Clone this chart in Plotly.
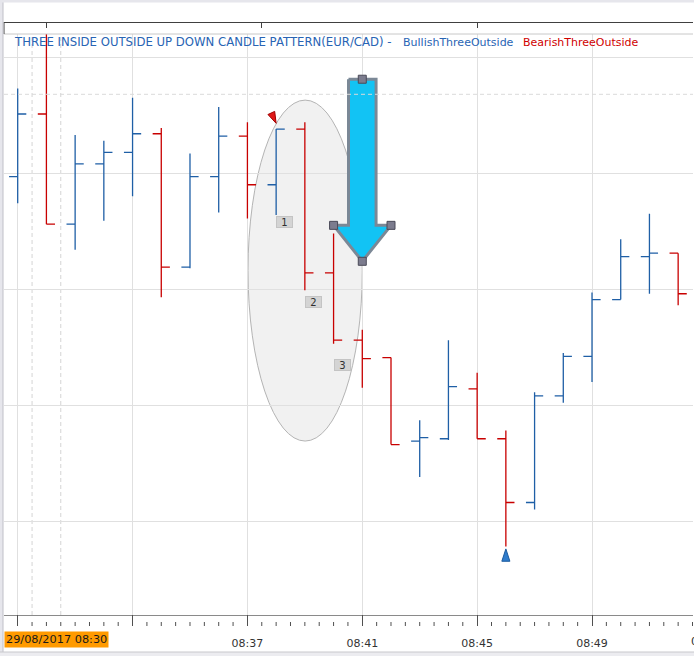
import plotly.graph_objects as go

# ---------------- data ----------------
times = ["08:29", "08:30", "08:31", "08:32", "08:33", "08:34", "08:35", "08:36",
         "08:37", "08:38", "08:39", "08:40", "08:41", "08:42", "08:43", "08:44",
         "08:45", "08:46", "08:47", "08:48", "08:49", "08:50", "08:51", "08:52"]
opens = [1.49597, 1.49651, 1.49556, 1.49608, 1.49618, 1.49634, 1.49519, 1.49597,
         1.49632, 1.49590, 1.49638, 1.49514, 1.49456, 1.49441, 1.49369, 1.49371,
         1.49414, 1.49371, 1.49316, 1.49408, 1.49442, 1.49491, 1.49528, 1.49531]
highs = [1.49673, 1.49732, 1.49633, 1.49628, 1.49665, 1.49639, 1.49617, 1.49657,
         1.49644, 1.49638, 1.49644, 1.49548, 1.49465, 1.49441, 1.49387, 1.49456,
         1.49428, 1.49378, 1.49411, 1.49445, 1.49497, 1.49543, 1.49565, 1.49531]
lows = [1.49574, 1.49556, 1.49534, 1.49559, 1.49580, 1.49493, 1.49518, 1.49566,
        1.49561, 1.49564, 1.49499, 1.49453, 1.49415, 1.49366, 1.49338, 1.49370,
        1.49371, 1.49278, 1.49310, 1.49402, 1.49420, 1.49491, 1.49496, 1.49486]
closes = [1.49651, 1.49556, 1.49608, 1.49618, 1.49634, 1.49519, 1.49597, 1.49632,
          1.49590, 1.49638, 1.49514, 1.49456, 1.49440, 1.49366, 1.49372, 1.49416,
          1.49371, 1.49316, 1.49408, 1.49442, 1.49491, 1.49528, 1.49531, 1.49496]

major_ticks = ["08:29", "08:33", "08:37", "08:41", "08:45", "08:49", "08:53"]
major_labels = [" ", " ", "08:37", "08:41", "08:45", "08:49", "08:53"]
first_label = "29/08/2017 08:30"
title_main = "THREE INSIDE OUTSIDE UP DOWN CANDLE PATTERN(EUR/CAD) -"
title_bull = "BullishThreeOutside"
title_bear = "BearishThreeOutside"

bear_signal = "08:38"
bull_signal = "08:46"
pattern_bars = ["08:38", "08:39", "08:40"]
pattern_texts = ["1", "2", "3"]
pattern_label_y = [1.49558, 1.49489, 1.49435]

# drawing objects (data coordinates)
ellipse_x = ["08:37", "08:41"]
ellipse_y = [1.49369, 1.49663]
arrow_top, arrow_wing, arrow_tip = 1.49681, 1.49555, 1.49524
level_line = 1.49668
dashed_times = [29.5, 30.5]


def to_min(t):
    h, m = t.split(":")
    return int(h) * 60 + int(m) - 480


x = [to_min(t) for t in times]
xmaj = [to_min(t) for t in major_ticks]

BLUE = "#1f5fa6"
RED = "#c80000"
GRID = "#e0e0e0"
FONT = "DejaVu Sans"

W, H = 694, 656
ML, MR, MT, MB = 4, 1, 22, 26
PW, PH = W - ML - MR, H - MT - MB
XR = [28.523, 52.517]
YR = [1.49219, 1.49720]


def pyf(py):  # pixel y -> paper fraction
    return (H - MB - py) / PH


def pxf(px):
    return (px - ML) / PW


def xpaper(v):  # data x -> paper fraction
    return (v - XR[0]) / (XR[1] - XR[0])


ydom = [pyf(615), pyf(34)]

fig = go.Figure()

fig.add_trace(go.Ohlc(
    x=x, open=opens, high=highs, low=lows, close=closes,
    increasing=dict(line=dict(color=BLUE, width=1.3)),
    decreasing=dict(line=dict(color=RED, width=1.3)),
    tickwidth=0.3, showlegend=False, name="EUR/CAD"))

# cyan arrow drawing
m = to_min("08:41")
ax_ = [m - 0.48, m + 0.48, m + 0.48, m + 1.0, m, m - 1.0, m - 0.48, m - 0.48]
ay_ = [arrow_top, arrow_top, arrow_wing, arrow_wing, arrow_tip, arrow_wing, arrow_wing, arrow_top]
fig.add_trace(go.Scatter(x=ax_, y=ay_, mode="lines", fill="toself",
                         fillcolor="#12c3f4", line=dict(color="#7b8896", width=3),
                         hoverinfo="skip", showlegend=False))
fig.add_trace(go.Scatter(x=[m, m - 1.0, m + 1.0, m], y=[arrow_top, arrow_wing, arrow_wing, arrow_tip],
                         mode="markers",
                         marker=dict(symbol="square", size=8, color="#7c7c8e",
                                     line=dict(color="#4a4a58", width=1)),
                         hoverinfo="skip", showlegend=False))

# signal markers
bi = times.index(bear_signal)
ui = times.index(bull_signal)
fig.add_trace(go.Scatter(x=[x[bi]], y=[highs[bi] + 0.00005], mode="markers",
                         marker=dict(symbol="arrow", size=12, angle=155, color="#e01818",
                                     line=dict(color="#a00000", width=1)),
                         hoverinfo="skip", showlegend=False))
fig.add_trace(go.Scatter(x=[x[ui]], y=[lows[ui] - 0.00002], mode="markers",
                         marker=dict(symbol="arrow", size=13, angle=0, color="#2f7ccc",
                                     line=dict(color="#1a5a9e", width=1)),
                         hoverinfo="skip", showlegend=False))

# dummy traces so the extra axes are drawn
for xa in ["x2", "x3"]:
    fig.add_trace(go.Scatter(x=[x[0]], y=[opens[0]], xaxis=xa, mode="markers",
                             marker=dict(opacity=0), hoverinfo="skip", showlegend=False))

shapes = []
# ellipse highlight
shapes.append(dict(type="circle", xref="x", yref="y", layer="below",
                   x0=to_min(ellipse_x[0]) + 0.02, x1=to_min(ellipse_x[1]),
                   y0=ellipse_y[0], y1=ellipse_y[1],
                   fillcolor="#f1f1f1", line=dict(color="#b4b4b4", width=1)))
# dashed verticals
for dt in dashed_times:
    shapes.append(dict(type="line", xref="x", yref="y domain", x0=dt, x1=dt, y0=0, y1=1,
                       layer="below", line=dict(color="#d4d4d4", width=1, dash="4px,3px")))
# dashed level line
shapes.append(dict(type="line", xref="x domain", yref="y", x0=0, x1=1, y0=level_line, y1=level_line,
                   layer="above", line=dict(color="#dadada", width=1, dash="4px,3px")))
# half-minute minor ticks of the time ruler
k = 0
while xmaj[0] + 0.5 * k < XR[1]:
    v = xmaj[0] + 0.5 * k
    if k % 8 != 0:
        shapes.append(dict(type="line", xref="paper", yref="paper", x0=xpaper(v), x1=xpaper(v),
                           y0=pyf(626), y1=pyf(622), line=dict(color="#505050", width=1)))
    k += 1
# top strip bottom line and left border
shapes.append(dict(type="line", xref="paper", yref="paper", x0=0, x1=1, y0=ydom[1], y1=ydom[1],
                   line=dict(color="#c8c8c8", width=1)))
shapes.append(dict(type="line", xref="paper", yref="paper", x0=0, x1=0, y0=ydom[1], y1=1,
                   line=dict(color="#404040", width=1)))
# outer frame decorations
shapes.append(dict(type="rect", xref="paper", yref="paper", x0=pxf(0), x1=pxf(3),
                   y0=pyf(656), y1=pyf(0), fillcolor="#e6e6ec", line=dict(width=0)))
shapes.append(dict(type="line", xref="paper", yref="paper", x0=pxf(3), x1=pxf(3),
                   y0=pyf(656), y1=pyf(0), line=dict(color="#c0c0c8", width=1)))
shapes.append(dict(type="rect", xref="paper", yref="paper", x0=pxf(0), x1=pxf(694),
                   y0=pyf(2.5), y1=pyf(0), fillcolor="#e6e6ec", line=dict(width=0)))
shapes.append(dict(type="rect", xref="paper", yref="paper", x0=pxf(0), x1=pxf(694),
                   y0=pyf(656), y1=pyf(652), fillcolor="#ececf0", line=dict(width=0)))
shapes.append(dict(type="line", xref="paper", yref="paper", x0=pxf(0), x1=pxf(694),
                   y0=pyf(652), y1=pyf(652), line=dict(color="#c8c8cc", width=1)))

annotations = []
ty = pyf(42)
annotations.append(dict(text=title_main, xref="paper", yref="paper", x=pxf(12), y=ty,
                        xanchor="left", yanchor="middle", showarrow=False,
                        font=dict(family=FONT, size=11.7, color="#2864b4")))
annotations.append(dict(text=title_bull, xref="paper", yref="paper", x=pxf(400.5), y=ty,
                        xanchor="left", yanchor="middle", showarrow=False,
                        font=dict(family=FONT, size=11, color="#2864b4")))
annotations.append(dict(text=title_bear, xref="paper", yref="paper", x=pxf(521), y=ty,
                        xanchor="left", yanchor="middle", showarrow=False,
                        font=dict(family=FONT, size=11, color="#d00000")))
for t, lab, ly in zip(pattern_bars, pattern_texts, pattern_label_y):
    annotations.append(dict(text=lab, xref="x", yref="y", x=to_min(t), y=ly,
                            xanchor="left", yanchor="middle", showarrow=False,
                            width=15, height=10, borderpad=0, borderwidth=1,
                            bgcolor="#d4d4d4", bordercolor="#c4c4c4",
                            font=dict(family=FONT, size=10, color="#303030")))
annotations.append(dict(text=first_label, xref="paper", yref="paper", x=0, y=pyf(639),
                        xanchor="left", yanchor="middle", showarrow=False,
                        bgcolor="#ff9a00", borderpad=1,
                        font=dict(family=FONT, size=11.3, color="#1a1a1a")))
annotations.append(dict(text=major_labels[-1], xref="paper", yref="paper",
                        x=xpaper(xmaj[-1]), y=pyf(641),
                        xanchor="center", yanchor="middle", showarrow=False,
                        font=dict(family=FONT, size=11, color="#333333")))

alias = {str(v): lab for v, lab in zip(xmaj, major_labels)}

fig.update_layout(
    width=W, height=H, margin=dict(l=ML, r=MR, t=MT, b=MB, pad=0),
    paper_bgcolor="white", plot_bgcolor="white",
    showlegend=False, hovermode=False,
    shapes=shapes, annotations=annotations,
    xaxis=dict(range=XR, domain=[0, 1], anchor="y", tickmode="array", tickvals=xmaj,
               showticklabels=False, ticks="", showgrid=True, gridcolor=GRID, gridwidth=1,
               zeroline=False, showline=True, linecolor="#8a8a8a", linewidth=1,
               rangeslider=dict(visible=False), fixedrange=True),
    xaxis2=dict(range=XR, overlaying="x", anchor="free", position=pyf(626),
                side="bottom", tickmode="linear", tick0=xmaj[0], dtick=xmaj[1] - xmaj[0],
                labelalias=alias,
                ticks="inside", ticklen=11, tickwidth=1, tickcolor="#505050",
                showgrid=False, zeroline=False, showline=False, ticklabelstandoff=9,
                tickfont=dict(family=FONT, size=11, color="#333333")),
    xaxis3=dict(range=XR, overlaying="x", anchor="free", position=1, side="top",
                tickmode="array", tickvals=[30, 37.5, 45, 52.5], ticks="inside", ticklen=5,
                tickcolor="#404040", showticklabels=False, showgrid=False, zeroline=False,
                showline=True, linecolor="#404040", linewidth=1),
    yaxis=dict(range=YR, domain=ydom, anchor="x", tick0=1.495, dtick=0.001,
               showticklabels=False, ticks="", showgrid=True, gridcolor=GRID,
               zeroline=False, showline=False, fixedrange=True),
)

fig.write_html("out.html")
